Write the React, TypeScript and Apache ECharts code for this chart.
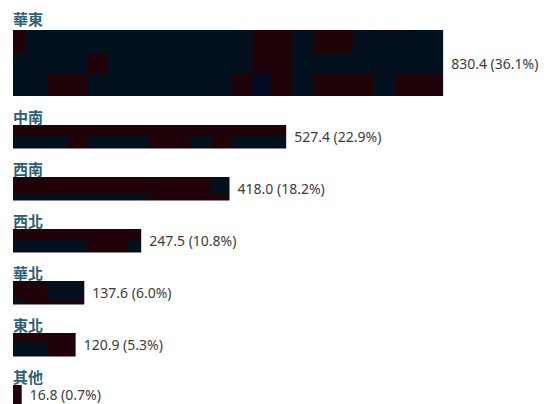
import React, { useEffect, useRef } from "react";
import * as echarts from "echarts";

const categories = ["華東", "中南", "西南", "西北", "華北", "東北", "其他"];
const values = [830.4, 527.4, 418.0, 247.5, 137.6, 120.9, 16.8];
const axisMax = 1000;

const W = 555;
const H = 404;
const NAVY = "#03111f";
const RED = "#1f0308";
const BLUE = "#010b24";

// mosaic texture cells per bar, in bar-local pixels: [x0, x1, y0, y1, colour]
type Cell = [number, number, number, number, string];
const textures: Cell[][] = [
  [
    [0, 12, 0, 23, RED], [239, 279, 0, 23, RED], [300, 340, 0, 23, RED],
    [279, 300, 0, 2, RED], [360, 400, 0, 2, RED],
    [74, 94, 23, 44, RED], [239, 279, 23, 44, RED],
    [34, 74, 44, 66, RED], [219, 239, 44, 66, RED], [239, 257, 44, 66, BLUE],
    [257, 279, 44, 66, RED], [300, 360, 44, 66, RED], [382, 460, 44, 66, RED],
  ],
  [
    [0, 460, 0, 11, RED], [54, 74, 11, 30, RED], [135, 177, 11, 30, RED], [198, 218, 11, 30, RED],
  ],
  [
    [0, 198, 0, 17, RED], [135, 460, 17, 30, RED],
  ],
  [
    [0, 460, 0, 11, RED], [74, 115, 11, 30, RED],
  ],
  [
    [0, 34, 0, 19, RED], [12, 460, 19, 30, RED],
  ],
  [
    [0, 460, 0, 9, RED], [34, 460, 9, 30, RED],
  ],
  [
    [0, 460, 0, 30, RED],
  ],
];

function makeTexture(cells: Cell[], h: number): HTMLCanvasElement {
  const c = document.createElement("canvas");
  c.width = 460;
  c.height = h;
  const g = c.getContext("2d")!;
  g.fillStyle = NAVY;
  g.fillRect(0, 0, c.width, c.height);
  for (const [x0, x1, y0, y1, col] of cells) {
    g.fillStyle = col;
    g.fillRect(x0, y0, x1 - x0, y1 - y0);
  }
  return c;
}

export default function App() {
  const ref = useRef<HTMLDivElement>(null);
  useEffect(() => {
    if (!ref.current) return;
    const chart = echarts.init(ref.current, null, { renderer: "svg" });
    const total = values.reduce((a, b) => a + b, 0);
    const items = values.map((v, i) => {
      const h = i === 0 ? 66 : 30;
      const tex = makeTexture(textures[i], h);
      const item: any = {
        value: v,
        itemStyle: {
          color: { image: tex, repeat: "no-repeat", imageWidth: 460, imageHeight: h },
        },
      };
      if (i === values.length - 1) item.label = { offset: [0, -2] };
      return item;
    });
    const valueLabel = {
      show: true,
      position: "right",
      distance: 8,
      fontSize: 14,
      color: "#3c3c3c",
      fontFamily: "Noto Sans",
      formatter: (p: any) => `${p.value.toFixed(1)} (${((p.value / total) * 100).toFixed(1)}%)`,
    };
    const nameLabel = (dy: number) => ({
      show: true,
      position: [0, dy],
      align: "left",
      verticalAlign: "bottom",
      fontSize: 15,
      fontWeight: "bold",
      color: "#2d6076",
      fontFamily: "Noto Sans CJK TC",
      formatter: "{b}",
    });
    const topCats = categories.slice(0, 1);
    const restCats = categories.slice(1);
    const option: any = {
      animation: false,
      grid: [
        { left: 13, top: 30, width: 518, height: 66 },
        { left: 13, top: 136.75, width: 518, height: 260 },
      ],
      xAxis: [
        { gridIndex: 0, type: "value", min: 0, max: axisMax, show: false },
        { gridIndex: 1, type: "value", min: 0, max: axisMax, show: false },
      ],
      yAxis: [
        { gridIndex: 0, type: "category", data: topCats, show: false },
        { gridIndex: 1, type: "category", data: restCats, inverse: true, boundaryGap: false, show: false },
      ],
      series: [
        {
          type: "bar",
          xAxisIndex: 0,
          yAxisIndex: 0,
          data: items.slice(0, 1),
          barWidth: 66,
          clip: false,
          label: valueLabel,
        },
        {
          type: "bar",
          xAxisIndex: 0,
          yAxisIndex: 0,
          data: values.slice(0, 1),
          barWidth: 66,
          barGap: "-100%",
          clip: false,
          silent: true,
          itemStyle: { color: "rgba(0,0,0,0)" },
          label: nameLabel(-4),
        },
        {
          type: "bar",
          xAxisIndex: 1,
          yAxisIndex: 1,
          data: items.slice(1),
          barWidth: 23.5,
          clip: false,
          label: valueLabel,
        },
        {
          type: "bar",
          xAxisIndex: 1,
          yAxisIndex: 1,
          data: values.slice(1),
          barWidth: 23.5,
          barGap: "-100%",
          clip: false,
          silent: true,
          itemStyle: { color: "rgba(0,0,0,0)" },
          label: nameLabel(-1),
        },
      ],
    };
    chart.setOption(option);
    return () => chart.dispose();
  }, []);
  return (
    <div
      ref={ref}
      style={{ position: "absolute", left: 0, top: 0, width: W, height: H, background: "#fff" }}
    />
  );
}
